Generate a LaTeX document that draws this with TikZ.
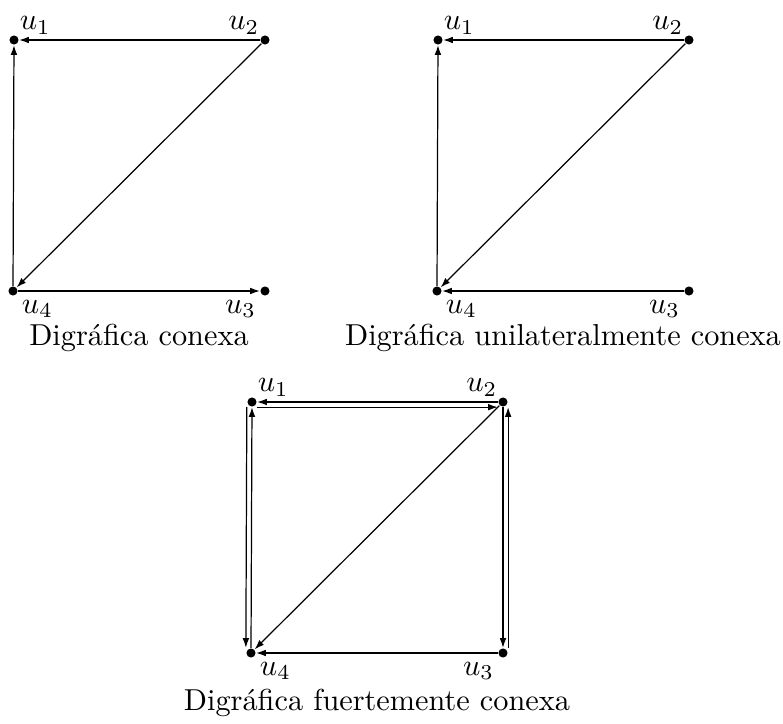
\documentclass[tikz,border=0pt]{standalone}
\usetikzlibrary{arrows.meta}

\begin{document}
\begin{tikzpicture}[
  x=0.33pt,y=-0.33pt,
  vertex/.style={circle,fill=black,inner sep=0pt,minimum size=3pt},
  arc/.style={-{Latex[length=3.2pt,width=2.2pt]},line width=0.4pt},
  up/.style={label={[inner sep=0.5pt]#1}},
  down/.style={label={[inner sep=0.5pt,label distance=1.5pt]#1}},
  caption/.style={inner sep=0pt,font=\normalsize}
]
  \useasboundingbox (0,0) rectangle (783,724);
  % conexa
  \node[vertex,up={above right:$u_1$}] (a1) at (14,40) {};
  \node[vertex,up={above left:$u_2$}] (a2) at (265,40) {};
  \node[vertex,down={below left:$u_3$}] (a3) at (265,291) {};
  \node[vertex,down={below right:$u_4$}] (a4) at (13,291) {};
  \draw[arc] (a2) -- (a1);
  \draw[arc] (a4) -- (a1);
  \draw[arc] (a2) -- (a4);
  \draw[arc] (a4) -- (a3);
  \node[caption] (capa) at (139,338) {Digráfica conexa};
  % unilateralmente conexa
  \node[vertex,up={above right:$u_1$}] (b1) at (438,40) {};
  \node[vertex,up={above left:$u_2$}] (b2) at (689,40) {};
  \node[vertex,down={below left:$u_3$}] (b3) at (689,291) {};
  \node[vertex,down={below right:$u_4$}] (b4) at (437,291) {};
  \draw[arc] (b2) -- (b1);
  \draw[arc] (b4) -- (b1);
  \draw[arc] (b2) -- (b4);
  \draw[arc] (b3) -- (b4);
  \node[caption] (capb) at (563,338) {Digráfica unilateralmente conexa};
  % fuertemente conexa
  \node[vertex,up={above right:$u_1$}] (c1) at (252,402) {};
  \node[vertex,up={above left:$u_2$}] (c2) at (503,402) {};
  \node[vertex,down={below left:$u_3$}] (c3) at (503,653) {};
  \node[vertex,down={below right:$u_4$}] (c4) at (251,653) {};
  \draw[arc] (c2) -- (c1);
  \draw[arc,transform canvas={yshift=-1.7pt}] (c1) -- (c2);
  \draw[arc] (c4) -- (c1);
  \draw[arc,transform canvas={xshift=-1.7pt}] (c1) -- (c4);
  \draw[arc] (c2) -- (c3);
  \draw[arc,transform canvas={xshift=1.7pt}] (c3) -- (c2);
  \draw[arc] (c2) -- (c4);
  \draw[arc] (c3) -- (c4);
  \node[caption] (capc) at (377,703) {Digráfica fuertemente conexa};
\end{tikzpicture}
\end{document}
